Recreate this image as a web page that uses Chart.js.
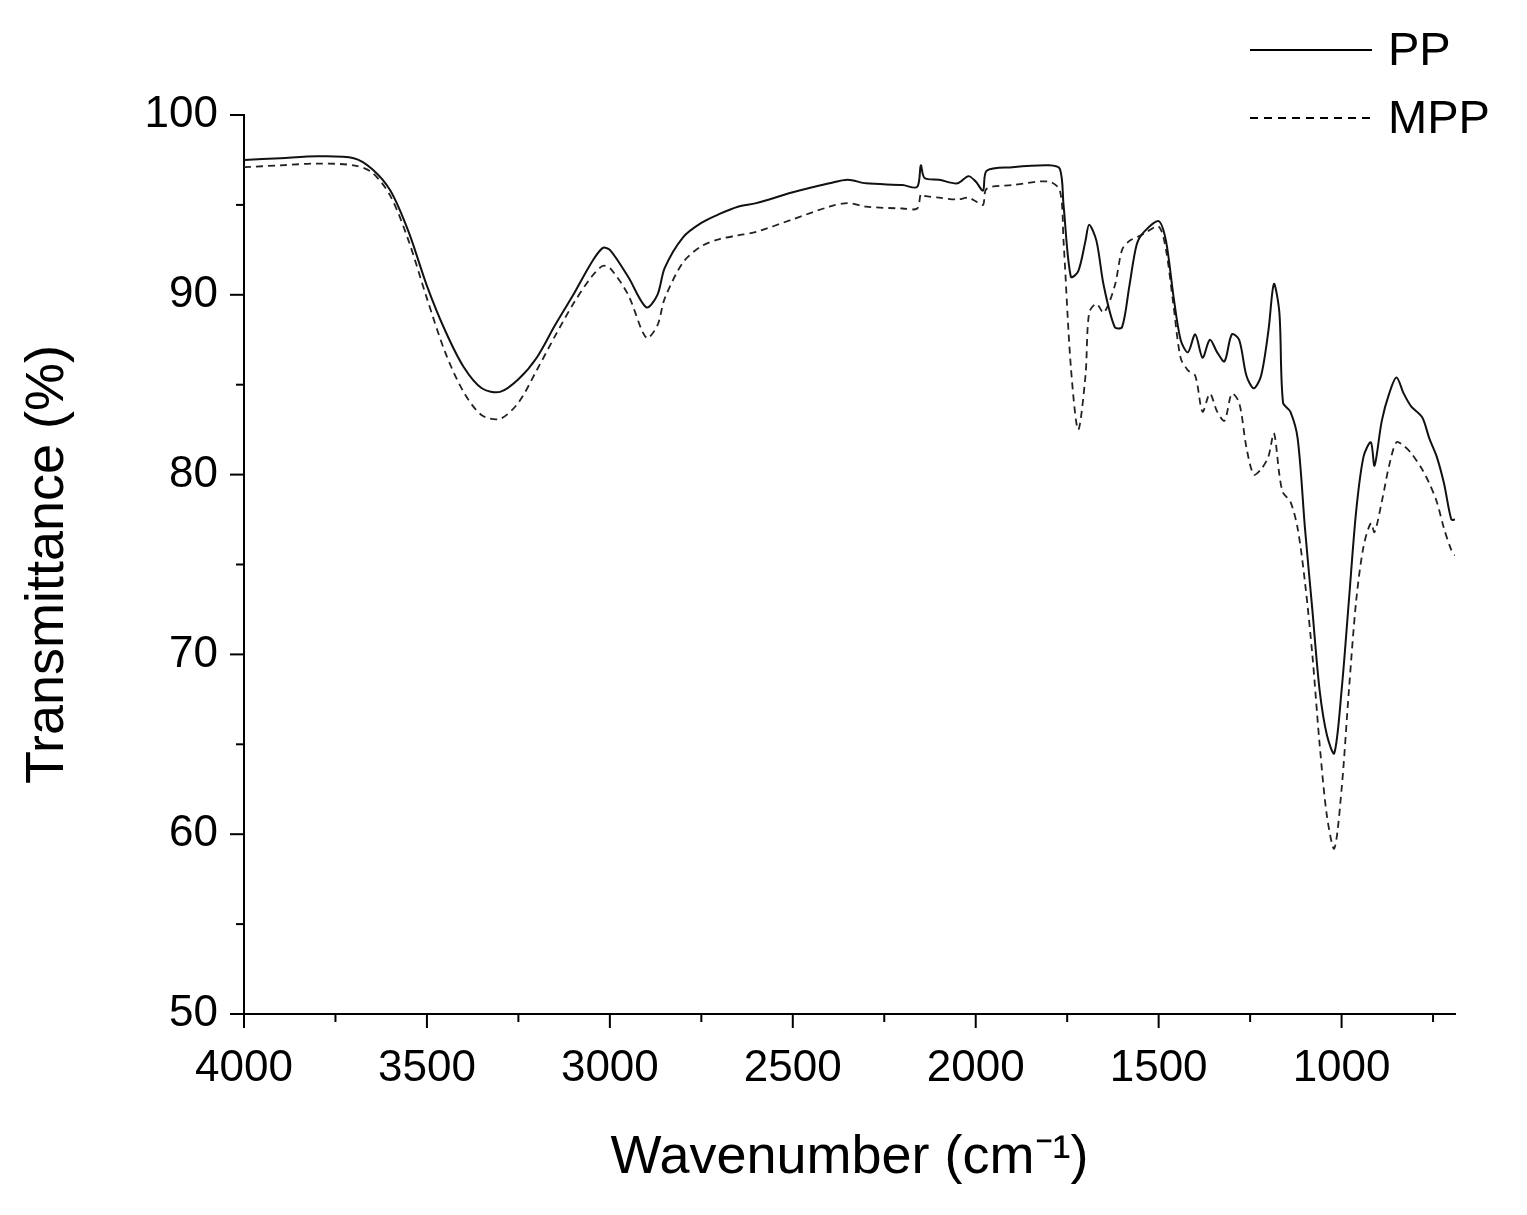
<!DOCTYPE html>
<html><head><meta charset="utf-8">
<script src="https://cdn.jsdelivr.net/npm/chart.js@4"></script>
<style>html,body{margin:0;padding:0;background:#fff}#w{width:1527px;height:1215px}</style>
</head><body><div id="w"><canvas id="c"></canvas></div>
<script>
const wavenumbers = [4000,3900,3800,3700,3650,3600,3550,3500,3450,3400,3350,3300,3250,3200,3150,3100,3050,3020,3000,2950,2900,2870,2850,2800,2750,2700,2650,2600,2500,2400,2350,2300,2200,2160,2150,2140,2100,2050,2020,2000,1980,1970,1900,1800,1770,1760,1740,1720,1700,1690,1670,1650,1620,1600,1580,1560,1540,1500,1480,1460,1440,1420,1400,1380,1360,1340,1320,1300,1280,1260,1240,1220,1200,1185,1170,1160,1140,1120,1100,1080,1060,1040,1020,1000,980,960,940,920,910,890,870,850,830,810,780,760,740,720,700,690];
const ppValues = [97.5,97.6,97.7,97.6,97.0,95.8,93.5,90.5,88,86,84.8,84.6,85.3,86.5,88.3,90,91.8,92.6,92.5,91,89.3,90,91.5,93.2,94,94.5,94.9,95.1,95.7,96.2,96.4,96.2,96.1,96.0,97.2,96.5,96.4,96.2,96.6,96.3,95.8,96.9,97.1,97.2,97.0,95,91,91.3,93,93.9,93,90.5,88.2,88.2,90.5,92.8,93.5,94.1,93,90,87.5,86.8,87.8,86.5,87.5,86.8,86.3,87.8,87.5,85.5,84.8,85.5,88,90.6,89,84,83.5,82,77,72.5,68,65.5,64.5,68,73,78,81,81.8,80.5,83,84.5,85.4,84.5,83.8,83.2,82,81,79.5,77.5,77.5];
const mppValues = [97.1,97.2,97.3,97.2,96.8,95.5,93,89.8,86.8,84.6,83.3,83.1,84,85.8,87.7,89.5,91,91.6,91.5,90,87.6,88.3,89.8,91.8,92.7,93.1,93.3,93.5,94.2,94.9,95.1,94.9,94.8,94.8,95.6,95.5,95.4,95.3,95.4,95.2,95,95.9,96.1,96.3,95.8,93,86,82.5,85.5,89,89.5,89,90.5,92.5,93,93.2,93.4,93.8,92.5,89.5,86.5,85.8,85.5,83.5,84.5,83.5,83,84.5,84,81.5,80,80.3,81,82.3,80,79,78.5,77,74,70,65,61,59.2,62.5,68,73,76,77.3,76.8,78.5,80.5,81.8,81.6,81.2,80.3,79.5,78.5,77,75.8,75.5];
const xTicks = [4000,3750,3500,3250,3000,2750,2500,2250,2000,1750,1500,1250,1000,750];
const yTicks = [50,55,60,65,70,75,80,85,90,95,100];
const seriesNames = ['PP','MPP'];

const F = '"Liberation Sans", Arial, sans-serif';
const tickPlugin = {
  id:'ticks',
  afterDraw(chart){
    const ctx = chart.ctx, xs = chart.scales.x, ys = chart.scales.y;
    ctx.save(); ctx.strokeStyle='#000'; ctx.lineWidth=2;
    xTicks.forEach(v=>{const p=xs.getPixelForValue(v);const L=v%500===0?14:8;
      ctx.beginPath();ctx.moveTo(p,ys.bottom);ctx.lineTo(p,ys.bottom+L);ctx.stroke();});
    yTicks.forEach(v=>{const p=ys.getPixelForValue(v);const L=v%10===0?14:8;
      ctx.beginPath();ctx.moveTo(xs.left,p);ctx.lineTo(xs.left-L,p);ctx.stroke();});
    ctx.lineWidth=2;
    [[50,[]],[118,[8,6]]].forEach((d,i)=>{
      ctx.setLineDash(d[1]);ctx.beginPath();ctx.moveTo(1250,d[0]);ctx.lineTo(1372,d[0]);ctx.stroke();
      ctx.setLineDash([]);ctx.fillStyle='#000';ctx.font='47px '+F;ctx.textBaseline='middle';
      ctx.fillText(seriesNames[i],1388,d[0]+2);
    });
    ctx.restore();
  }
};
const toPts = arr => wavenumbers.map((x,i)=>({x, y:arr[i]}));
new Chart(document.getElementById('c'),{
  type:'line',
  data:{datasets:[
    {label:seriesNames[0],data:toPts(ppValues),borderColor:'#111',borderWidth:2,pointRadius:0,tension:0.3},
    {label:seriesNames[1],data:toPts(mppValues),borderColor:'#222',borderWidth:1.8,borderDash:[7,5],pointRadius:0,tension:0.3}
  ]},
  options:{
    responsive:true,maintainAspectRatio:false,animation:false,
    layout:{padding:{left:12,top:115,right:72,bottom:20}},
    plugins:{legend:{display:false},tooltip:{enabled:false}},
    scales:{
      x:{type:'linear',reverse:true,min:690,max:4000,
        afterBuildTicks(s){s.ticks=[4000,3500,3000,2500,2000,1500,1000].map(v=>({value:v}));},
        afterFit(s){s.height=181;},
        grid:{display:false},border:{display:true,color:'#000',width:2},
        ticks:{color:'#000',font:{size:44,family:F},padding:20,maxRotation:0,autoSkip:false,callback:v=>String(v)},
        title:{display:true,text:'Wavenumber (cm⁻¹)',color:'#000',font:{size:54,family:F},padding:{top:10}}},
      y:{min:50,max:100,
        afterBuildTicks(s){s.ticks=[50,60,70,80,90,100].map(v=>({value:v}));},
        afterFit(s){s.width=232;},
        grid:{display:false},border:{display:true,color:'#000',width:2},
        ticks:{color:'#000',font:{size:44,family:F},padding:18},
        title:{display:true,text:'Transmittance (%)',color:'#000',font:{size:54,family:F},padding:{bottom:10}}}
    }
  },
  plugins:[tickPlugin]
});
</script></body></html>
